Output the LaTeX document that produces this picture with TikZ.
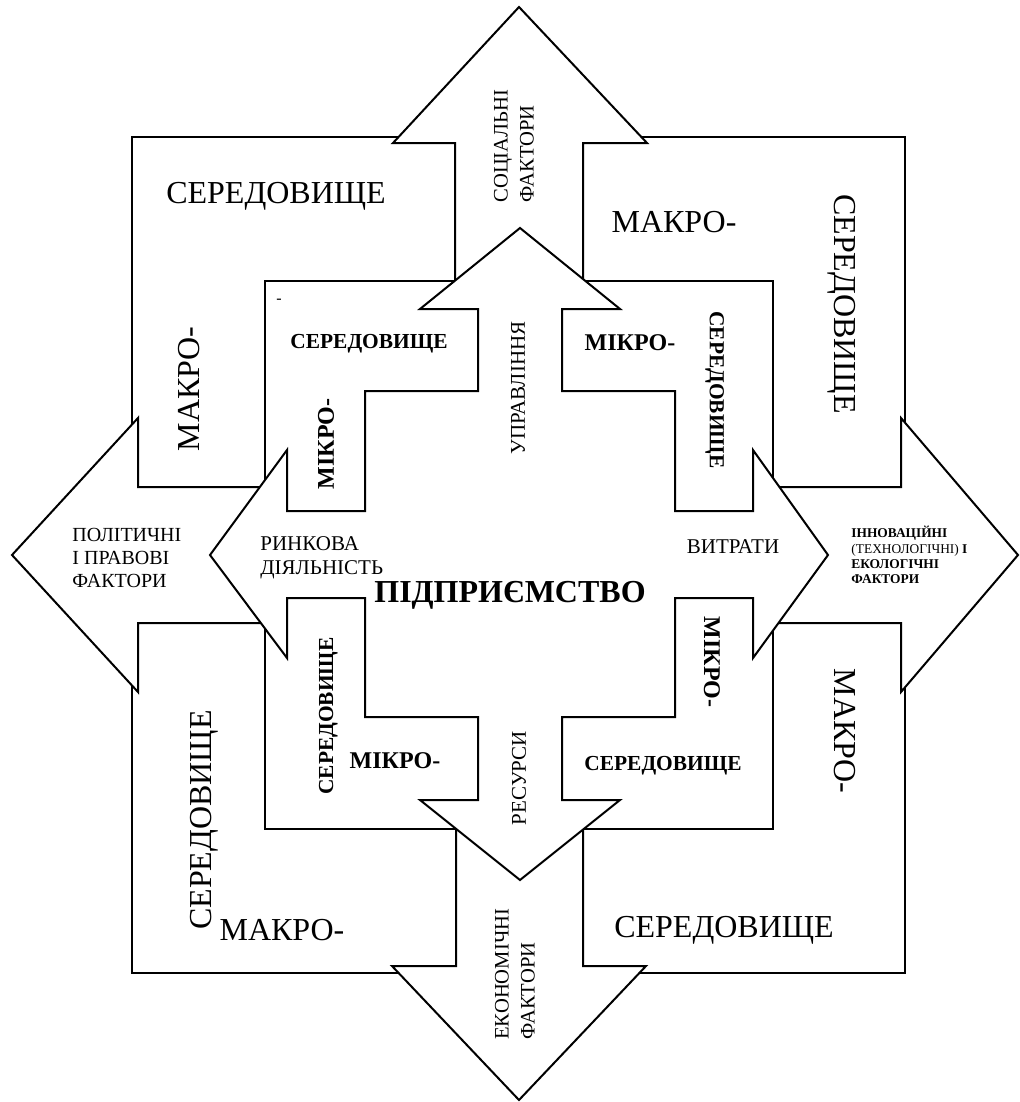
\documentclass[tikz,border=0pt]{standalone}
\usepackage{fontspec}
\setmainfont{Liberation Serif}

\begin{document}
\begin{tikzpicture}[x=0.5pt,y=-0.5pt,
  panel/.style={draw=black, line width=1pt, fill=white, line join=miter},
  macrolabel/.style={font=\fontsize{16}{18}\selectfont, inner sep=0pt, text height=10.6pt, text depth=0pt},
  microlabel/.style={font=\fontsize{10.7}{13}\selectfont\bfseries, inner sep=0pt, text height=7.1pt, text depth=0pt},
  microprefix/.style={microlabel, font=\fontsize{12}{14}\selectfont\bfseries, text height=7.9pt},
  arrowlabel/.style={font=\fontsize{10.3}{13}\selectfont, inner sep=0pt, align=left}]
\useasboundingbox (0,0) rectangle (1020,1102);

% Macro environment
\draw[panel] (132,137) rectangle (905,973);

% Outer arrows (factors)
\draw[panel] (455,281) -- (455,143) -- (393,143) -- (519,7) -- (647,143) -- (583,143) -- (583,281) -- cycle; % up
\draw[panel] (456,829) -- (456,966) -- (392,966) -- (519,1100) -- (646,966) -- (583,966) -- (583,829) -- cycle; % down
\draw[panel] (265,487) -- (138,487) -- (138,418) -- (12,555) -- (138,692) -- (138,623) -- (265,623) -- cycle; % left
\draw[panel] (773,487) -- (901,487) -- (901,418) -- (1018,555) -- (901,692) -- (901,623) -- (773,623) -- cycle; % right

% Micro environment
\draw[panel] (265,281) rectangle (773,829);

% Enterprise with inner arrows
\draw[panel] (365,391) -- (478,391) -- (478,309) -- (420,309) -- (520,228) -- (620,309) -- (562,309) -- (562,391)
  -- (675,391) -- (675,511) -- (753,511) -- (753,450) -- (828,555) -- (753,658) -- (753,598) -- (675,598)
  -- (675,717) -- (562,717) -- (562,800) -- (620,800) -- (520,880) -- (420,800) -- (478,800) -- (478,717)
  -- (365,717) -- (365,598) -- (287,598) -- (287,658) -- (210,555) -- (287,450) -- (287,511) -- (365,511) -- cycle;

% Macro labels
\node[macrolabel] (macroSerTL) at (276,193) {СЕРЕДОВИЩЕ};
\node[macrolabel, rotate=90] (macroMakTL) at (189,389) {МАКРО-};
\node[macrolabel] (macroMakTR) at (674,222) {МАКРО-};
\node[macrolabel, rotate=-90] (macroSerTR) at (845,304) {СЕРЕДОВИЩЕ};
\node[macrolabel, rotate=90] (macroSerBL) at (201,820) {СЕРЕДОВИЩЕ};
\node[macrolabel] (macroMakBL) at (282,930) {МАКРО-};
\node[macrolabel] (macroSerBR) at (724,927) {СЕРЕДОВИЩЕ};
\node[macrolabel, rotate=-90] (macroMakBR) at (845,731) {МАКРО-};

% Micro labels
\node[microlabel] (microSerTL) at (369,341) {СЕРЕДОВИЩЕ};
\node[inner sep=0pt, font=\fontsize{8}{9}\selectfont] (microDash) at (279,301) {-};
\node[microprefix, rotate=90] (microMikTL) at (326,444) {МІКРО-};
\node[microprefix] (microMikTR) at (630,343) {МІКРО-};
\node[microlabel, rotate=-90] (microSerTR) at (717,390) {СЕРЕДОВИЩЕ};
\node[microlabel, rotate=90] (microSerBL) at (326,716) {СЕРЕДОВИЩЕ};
\node[microprefix] (microMikBL) at (395,761) {МІКРО-};
\node[microprefix, rotate=-90] (microMikBR) at (712,662) {МІКРО-};
\node[microlabel] (microSerBR) at (663,763) {СЕРЕДОВИЩЕ};

% Factor labels
\node[arrowlabel, rotate=90, anchor=west] (social) at (514,203) {СОЦІАЛЬНІ\\ФАКТОРИ};
\node[arrowlabel, rotate=90, anchor=west] (economic) at (515,1040) {ЕКОНОМІЧНІ\\ФАКТОРИ};
\node[arrowlabel, anchor=west, font=\fontsize{10}{11.3}\selectfont] (political) at (72,558) {ПОЛІТИЧНІ\\І ПРАВОВІ\\ФАКТОРИ};
\node[arrowlabel, anchor=west, font=\fontsize{6.7}{7.6}\selectfont] (innovation) at (851,555)
  {\textbf{ІННОВАЦІЙНІ}\\(ТЕХНОЛОГІЧНІ) \textbf{І}\\\textbf{ЕКОЛОГІЧНІ}\\\textbf{ФАКТОРИ}};

% Enterprise labels
\node[arrowlabel, rotate=90, font=\fontsize{10.5}{12}\selectfont] (management) at (518,388) {УПРАВЛІННЯ};
\node[arrowlabel, anchor=west, font=\fontsize{10.5}{12}\selectfont] (market) at (260,558) {РИНКОВА\\ДІЯЛЬНІСТЬ};
\node[arrowlabel, font=\fontsize{10.5}{12}\selectfont] (costs) at (733,547) {ВИТРАТИ};
\node[arrowlabel, rotate=90, font=\fontsize{10.5}{12}\selectfont] (resources) at (519,778) {РЕСУРСИ};
\node[inner sep=0pt, font=\fontsize{16}{18}\selectfont\bfseries] (enterprise) at (510,595) {ПІДПРИЄМСТВО};

\end{tikzpicture}
\end{document}
